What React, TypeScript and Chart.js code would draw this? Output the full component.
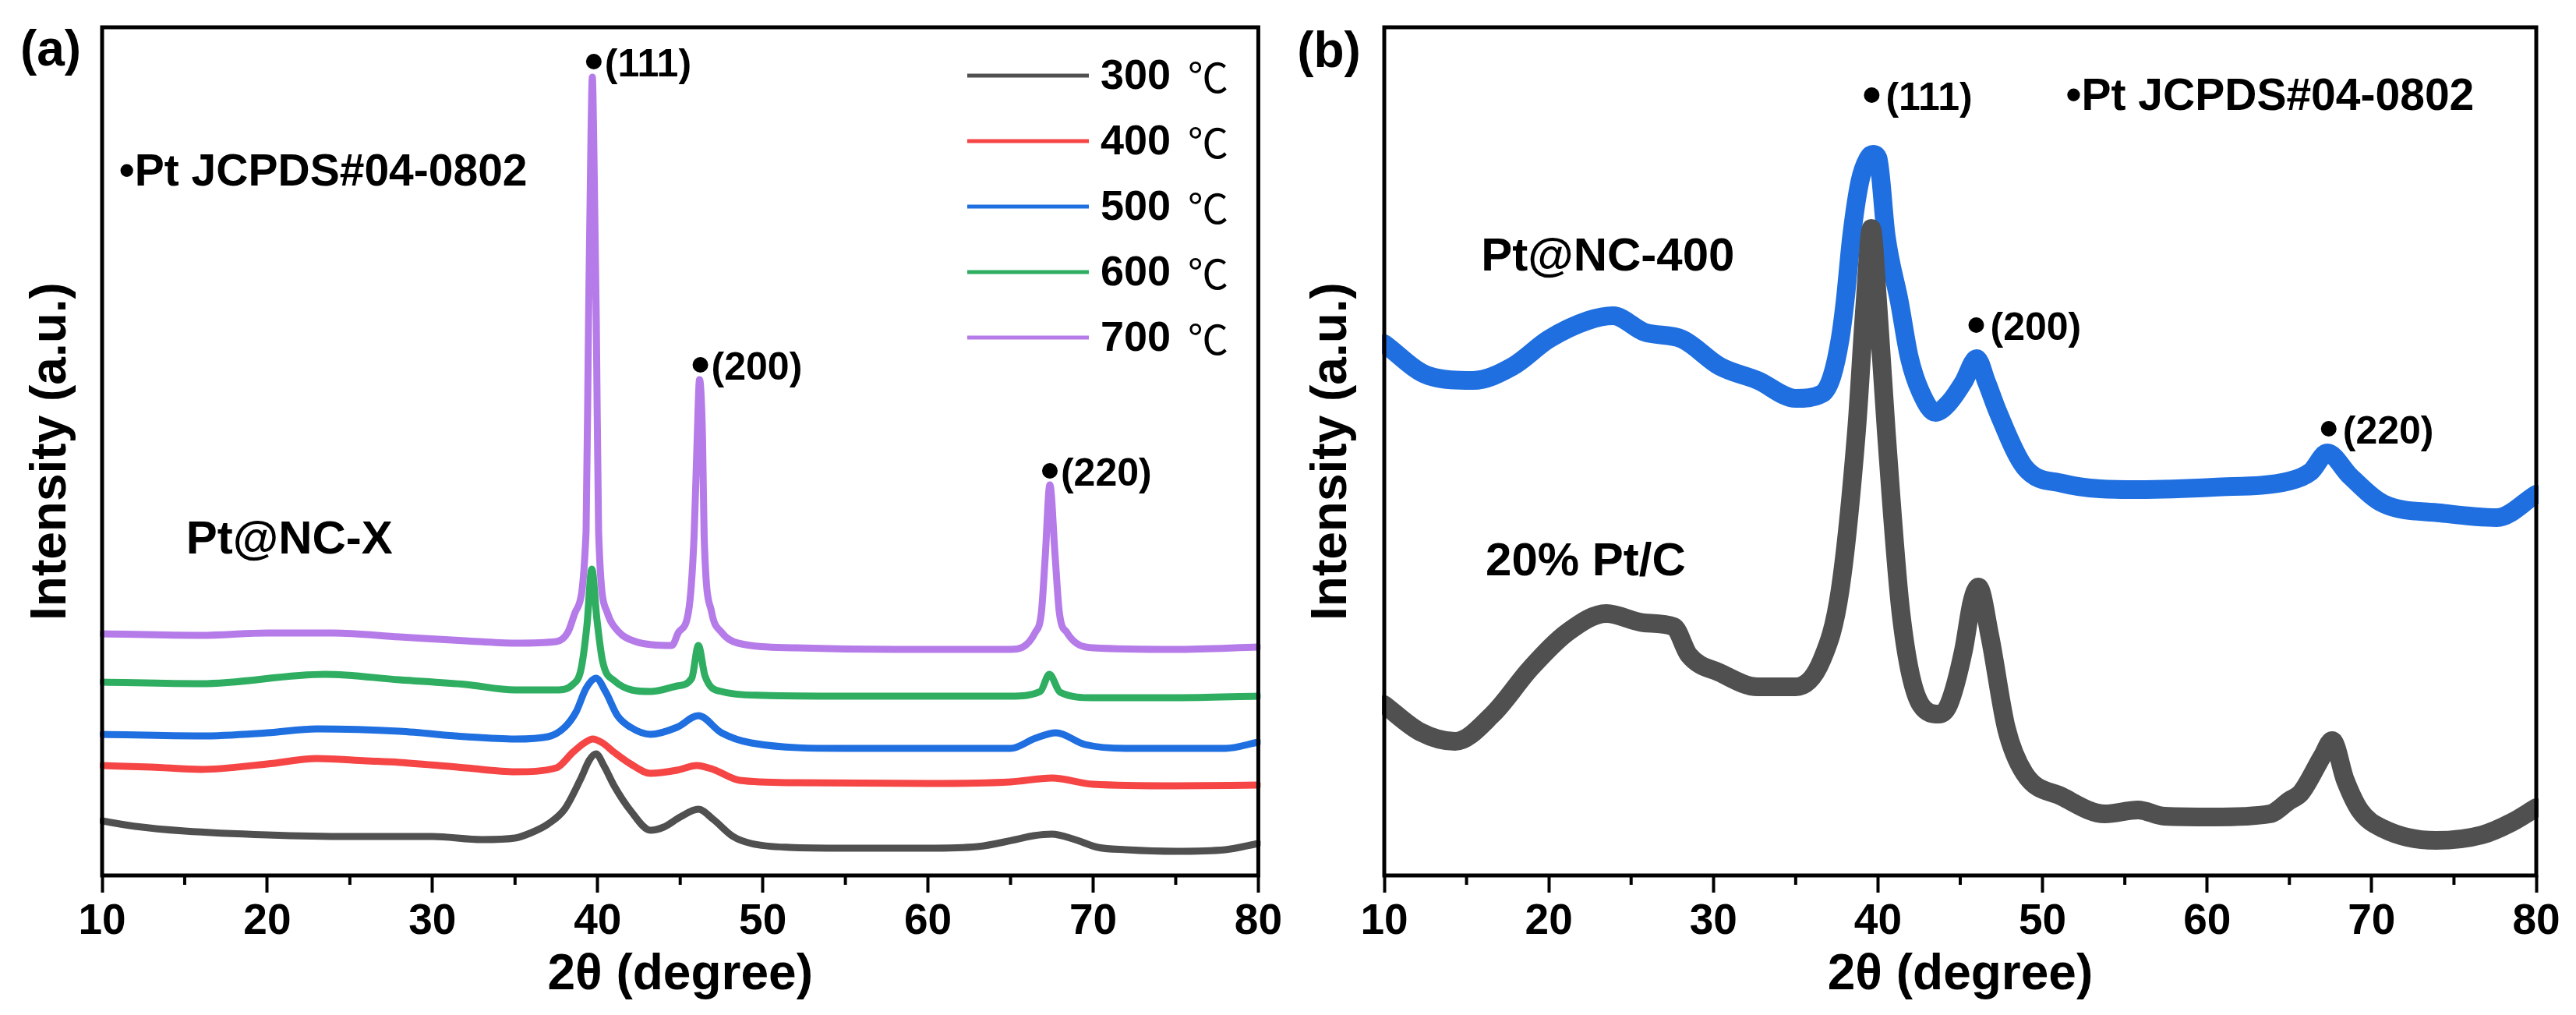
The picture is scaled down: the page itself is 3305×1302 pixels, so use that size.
import React, { useEffect, useRef } from 'react';
import { Chart, registerables } from 'chart.js';

Chart.register(...registerables);

const FONT = "'Liberation Sans', Arial, Helvetica, sans-serif";
const CJK = "'Noto Sans CJK SC', 'DejaVu Sans', sans-serif";

// ---------- Panel (a): Pt@NC-X at different temperatures ----------
const a300T = [10, 12, 15, 20, 25, 30, 33, 35, 36, 37, 38, 39, 39.5, 39.9, 40.4, 41, 42, 43.2, 44, 45, 46.1, 47, 48.2, 49.3, 51.6, 55, 60, 63, 65.3, 66.4, 67.5, 68.9, 70.3, 72, 75, 78, 80];
const a300I = [70, 63, 57, 52, 50, 50, 46, 48, 55, 66, 85, 125, 148, 156, 140, 115, 83, 58, 62, 75, 85, 72, 50, 41, 36, 35, 35, 37, 46, 51, 53, 46, 36, 33, 31, 33, 41];

const a400T = [10, 13, 16, 20, 23, 26, 28, 32, 35, 37.5, 38.5, 39.2, 39.7, 40.3, 41, 42, 43.2, 44.8, 46, 47, 48.6, 52, 60, 65, 67.5, 70, 75, 80];
const a400I = [141, 139, 136, 143, 150, 147, 145, 138, 133, 138, 158, 170, 175, 170, 158, 143, 131, 135, 141, 136, 122, 119, 118, 120, 125, 117, 115, 116];

const a500T = [10, 16, 20, 23, 28, 32, 35, 37, 38, 38.7, 39.3, 39.9, 40.5, 41.2, 42, 43.2, 44.8, 46.1, 47.5, 49.3, 55, 60, 65, 66.5, 67.75, 69.5, 72, 78, 80];
const a500I = [181, 179, 183, 188, 185, 178, 175, 178, 190, 210, 240, 253, 235, 205, 190, 181, 190, 205, 183, 170, 163, 163, 163, 176, 183, 168, 163, 163, 171];

const a600T = [10, 16, 23.5, 28, 32, 35, 37.5, 38.5, 39, 39.35, 39.65, 39.95, 40.3, 41, 43.2, 44.8, 45.7, 46.1, 46.5, 47.5, 50, 55, 60, 65, 66.8, 67.35, 68, 70, 75, 80];
const a600I = [248, 246, 258, 251, 245, 238, 238, 245, 265, 320, 393, 330, 275, 250, 236, 243, 253, 295, 256, 236, 231, 230, 230, 230, 236, 258, 235, 228, 228, 230];

const a700T = [10, 16, 20, 24, 28, 32, 35, 37.5, 38.2, 38.65, 39.3, 39.45, 39.6, 39.68, 39.76, 39.92, 40.06, 40.57, 41.3, 42.3, 43.3, 44.5, 44.9, 45.5, 45.84, 46.03, 46.17, 46.35, 46.45, 46.9, 47.5, 48.5, 52, 58, 65, 66.5, 66.87, 67.1, 67.38, 67.7, 67.95, 68.4, 70, 75, 80];
const a700I = [310, 308, 311, 311, 306, 301, 298, 300, 312, 338, 440, 710, 950, 1024, 950, 710, 440, 338, 312, 300, 296, 295, 312, 338, 435, 562, 636, 562, 435, 338, 312, 298, 292, 290, 290, 312, 338, 409, 501, 409, 338, 312, 292, 290, 293];

const legendLabelsA = ['300', '400', '500', '600', '700'];
const colorsA = ['#505050', '#f54545', '#1f6fe0', '#2fae62', '#b57be8'];

// ---------- Panel (b): Pt@NC-400 vs 20% Pt/C ----------
const bPtCT = [10, 12.2, 14.3, 16.6, 18.9, 21.2, 23.5, 25.8, 27.6, 28.5, 30.4, 32.7, 35, 36.6, 37.7, 38.7, 39.2, 39.6, 40.0, 40.5, 41.4, 42.6, 43.7, 44.3, 45.2, 45.7, 46.1, 46.8, 47.8, 48.9, 51.2, 53.8, 55.8, 57.4, 60.4, 63.8, 65.0, 65.7, 67.0, 67.6, 68.4, 69.3, 70.7, 73.9, 76.7, 78.5, 80];
const bPtCI = [219, 184, 172, 207, 266, 313, 336, 324, 319, 283, 260, 242, 242, 277, 366, 571, 730, 830, 730, 571, 336, 219, 207, 219, 289, 350, 370, 307, 189, 131, 101, 79, 84, 76, 75, 79, 96, 106, 153, 173, 122, 83, 60, 45, 52, 68, 87];

const bNCT = [10, 12.7, 15.4, 17.8, 20, 22.4, 23.9, 25.8, 28.1, 30.4, 32.7, 35, 36.6, 37.2, 37.7, 38.0, 38.4, 38.9, 39.4, 39.7, 40.0, 40.5, 41.3, 41.9, 42.6, 43.5, 44.3, 45.2, 46.0, 46.6, 47.3, 48.9, 51.2, 55.8, 60.4, 65.0, 66.3, 67.3, 68.7, 70.7, 74.2, 77.6, 80];
const bNCI = [682, 641, 635, 653, 688, 712, 718, 697, 688, 653, 635, 612, 618, 640, 688, 736, 820, 890, 920, 925, 920, 820, 736, 665, 620, 594, 606, 633, 663, 633, 594, 524, 503, 495, 498, 506, 518, 542, 512, 477, 465, 459, 489];

const colorsB = ['#505050', '#1f6fe0'];

// x-axis ticks
const majorStep = 10;
const minorTicks = [15, 25, 35, 45, 55, 65, 75];

// annotations (data coordinates)
const peaksA = [
  { t: 39.77, v: 1044, label: '(111)' },
  { t: 46.22, v: 655, label: '(200)' },
  { t: 67.38, v: 519, label: '(220)' },
];
const textsA = [
  { t: 15.08, v: 430, text: 'Pt@NC-X', size: 60 },
  { t: 11.03, v: 901, text: '•Pt JCPDS#04-0802', size: 57 },
];
const peaksB = [
  { t: 39.62, v: 1001, label: '(111)' },
  { t: 45.97, v: 706, label: '(200)' },
  { t: 67.39, v: 573, label: '(220)' },
];
const textsB = [
  { t: 15.88, v: 793, text: 'Pt@NC-400', size: 60 },
  { t: 16.16, v: 402, text: '20% Pt/C', size: 60 },
  { t: 51.42, v: 998, text: '•Pt JCPDS#04-0802', size: 57 },
];

const pts = (t: number[], v: number[]) => t.map((x, i) => ({ x, y: v[i] }));

type Peak = { t: number; v: number; label: string };
type Txt = { t: number; v: number; text: string; size: number };

function makeDecor(
  peaks: Peak[],
  texts: Txt[],
  letter: { x: number; y: number; text: string },
  labelDx: number,
  withLegend: boolean
) {
  return {
    id: 'decor',
    afterDatasetsDraw(chart: any) {
      const { ctx, chartArea: ca, scales } = chart;
      const xs = scales.x;
      const ys = scales.y;
      ctx.save();
      // frame
      ctx.strokeStyle = '#000';
      ctx.lineWidth = 5;
      ctx.strokeRect(ca.left, ca.top, ca.right - ca.left, ca.bottom - ca.top);
      // minor ticks
      ctx.lineWidth = 4;
      for (const m of minorTicks) {
        const x = xs.getPixelForValue(m);
        ctx.beginPath();
        ctx.moveTo(x, ca.bottom);
        ctx.lineTo(x, ca.bottom + 12);
        ctx.stroke();
      }
      // peak markers
      ctx.fillStyle = '#000';
      ctx.textAlign = 'left';
      ctx.textBaseline = 'middle';
      for (const p of peaks) {
        const x = xs.getPixelForValue(p.t);
        const y = ys.getPixelForValue(p.v);
        ctx.beginPath();
        ctx.arc(x, y, 10, 0, Math.PI * 2);
        ctx.fill();
        ctx.font = `bold 50px ${FONT}`;
        ctx.fillText(p.label, x + labelDx, y + 5);
      }
      // texts
      for (const t of texts) {
        ctx.font = `bold ${t.size}px ${FONT}`;
        ctx.fillText(t.text, xs.getPixelForValue(t.t), ys.getPixelForValue(t.v));
      }
      // panel letter
      ctx.font = `bold 64px ${FONT}`;
      ctx.textAlign = 'center';
      ctx.fillText(letter.text, letter.x, letter.y);
      // legend
      if (withLegend) {
        ctx.textAlign = 'left';
        for (let i = 0; i < legendLabelsA.length; i++) {
          const y = ca.top + 62 + i * 84;
          const x0 = ca.left + 1110;
          ctx.strokeStyle = colorsA[i];
          ctx.lineWidth = 5;
          ctx.beginPath();
          ctx.moveTo(x0, y);
          ctx.lineTo(x0 + 156, y);
          ctx.stroke();
          ctx.fillStyle = '#000';
          ctx.font = `bold 54px ${FONT}`;
          const tx = x0 + 171;
          ctx.fillText(legendLabelsA[i], tx, y + 2);
          const w = ctx.measureText(legendLabelsA[i]).width;
          ctx.font = `52px ${CJK}`;
          ctx.fillText('℃', tx + w + 22, y + 2);
        }
      }
      ctx.restore();
    },
  };
}

function baseOptions(padRight: number, yWidth: number, yTitlePad: number) {
  return {
    responsive: false,
    animation: false as const,
    layout: { padding: { top: 35, right: padRight, left: 0, bottom: 0 } },
    plugins: { legend: { display: false }, tooltip: { enabled: false } },
    elements: { point: { radius: 0 } },
    scales: {
      x: {
        type: 'linear' as const,
        min: 10,
        max: 80,
        ticks: {
          stepSize: majorStep,
          font: { family: FONT, size: 55, weight: 'bold' as const },
          color: '#000',
          padding: 5,
          maxRotation: 0,
          autoSkip: false,
        },
        grid: { display: true, drawOnChartArea: false, drawTicks: true, tickLength: 22, tickWidth: 4, tickColor: '#000' },
        border: { display: false },
        title: {
          display: true,
          text: '2θ (degree)',
          font: { family: FONT, size: 64, weight: 'bold' as const },
          color: '#000',
          padding: { top: 0, bottom: 12 },
        },
        afterFit: (s: any) => {
          s.height = 179;
        },
      },
      y: {
        type: 'linear' as const,
        min: 0,
        max: 1088,
        ticks: { display: false },
        grid: { display: false },
        border: { display: false },
        title: {
          display: true,
          text: 'Intensity (a.u.)',
          font: { family: FONT, size: 64, weight: 'bold' as const },
          color: '#000',
          padding: { top: yTitlePad, bottom: 0 },
        },
        afterFit: (s: any) => {
          s.width = yWidth;
        },
      },
    },
  };
}

function lineDs(label: string, t: number[], v: number[], color: string, width: number) {
  return {
    label,
    data: pts(t, v),
    borderColor: color,
    backgroundColor: color,
    borderWidth: width,
    pointRadius: 0,
    fill: false,
    cubicInterpolationMode: 'monotone' as const,
    borderJoinStyle: 'round' as const,
    borderCapStyle: 'round' as const,
    clip: 3,
  };
}

export default function App() {
  const refA = useRef<HTMLCanvasElement>(null);
  const refB = useRef<HTMLCanvasElement>(null);

  useEffect(() => {
    const seriesA = [
      [a300T, a300I],
      [a400T, a400I],
      [a500T, a500I],
      [a600T, a600I],
      [a700T, a700I],
    ];
    const chartA = new Chart(refA.current as HTMLCanvasElement, {
      type: 'line',
      data: {
        datasets: seriesA.map((s, i) => lineDs(legendLabelsA[i] + ' ℃', s[0], s[1], colorsA[i], 9)),
      },
      options: baseOptions(31, 131, 28) as any,
      plugins: [makeDecor(peaksA, textsA, { x: 65, y: 66, text: '(a)' }, 14, true)],
    });
    const chartB = new Chart(refB.current as HTMLCanvasElement, {
      type: 'line',
      data: {
        datasets: [
          lineDs('20% Pt/C', bPtCT, bPtCI, colorsB[0], 24),
          lineDs('Pt@NC-400', bNCT, bNCI, colorsB[1], 24),
        ],
      },
      options: baseOptions(51, 126, 21) as any,
      plugins: [makeDecor(peaksB, textsB, { x: 55, y: 68, text: '(b)' }, 18, false)],
    });
    return () => {
      chartA.destroy();
      chartB.destroy();
    };
  }, []);

  return (
    <div style={{ position: 'absolute', left: 0, top: 0, width: 3305, height: 1302, background: '#fff', overflow: 'hidden' }}>
      <canvas
        ref={refA}
        width={1650}
        height={1302}
        style={{ position: 'absolute', left: 0, top: 0, width: 1650, height: 1302 }}
      />
      <canvas
        ref={refB}
        width={1655}
        height={1302}
        style={{ position: 'absolute', left: 1650, top: 0, width: 1655, height: 1302 }}
      />
    </div>
  );
}
